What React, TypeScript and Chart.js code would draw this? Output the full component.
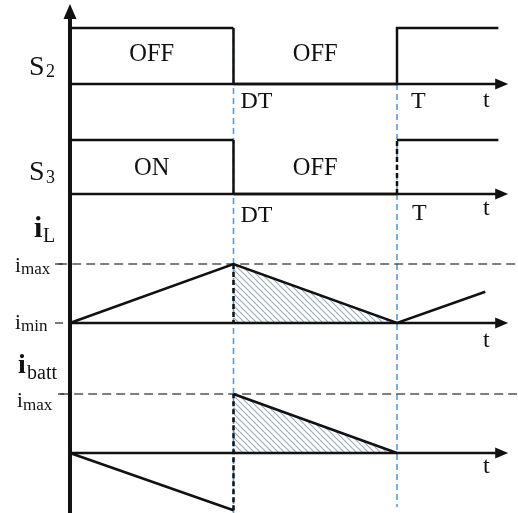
import React, { useEffect, useRef } from "react";
import { Chart, registerables } from "chart.js";

Chart.register(...registerables);

// ---- data (normalised time: T = 1, DT = 0.5) ----
const D = 0.5;
const T = 1;
const S2_TIMES = [0, D, D, T, T, 1.31];
const S2_LEVELS = [1, 1, 0, 0, 1, 1];
const S3_TIMES = [0, D, D, T, T, 1.31];
const S3_LEVELS = [1, 1, 0, 0, 1, 1];
const S2_STATES = ["OFF", "OFF"];
const S3_STATES = ["ON", "OFF"];
const IL_TIMES = [0, D, T, 1.27];
const IL_VALUES = [0, 1, 0, 0.53]; // 0 = i_min, 1 = i_max
const IBATT_TIMES = [0, D, D, T];
const IBATT_VALUES = [0, -0.97, 1, 0]; // 1 = i_max
const TIME_TICKS = ["DT", "T"];
const AXIS_END = 1.34;

// ---- layout ----
const W = 518;
const H = 513;
const X_MIN = -0.214;
const X_MAX = 1.37;
const PANELS: Record<string, { base: number; unit: number }> = {
  s2: { base: 84, unit: 56 },
  s3: { base: 194, unit: 54 },
  iL: { base: 323, unit: 59 },
  ib: { base: 453, unit: 59 },
};
const FONT = "'Liberation Serif', 'DejaVu Serif', serif";
const BLUE = "#5b9bd5";
const DARK = "#111";

const yv = (p: string, v: number) => PANELS[p].base - v * PANELS[p].unit;
const pts = (p: string, ts: number[], vs: number[]) => ts.map((t, i) => ({ x: t, y: yv(p, vs[i]) }));

function makeHatch(): CanvasPattern | string {
  const c = document.createElement("canvas");
  c.width = 6;
  c.height = 6;
  const g = c.getContext("2d");
  if (!g) return "rgba(120,150,190,0.3)";
  g.strokeStyle = "#9aabc3";
  g.lineWidth = 1.1;
  g.beginPath();
  g.moveTo(-1, -1);
  g.lineTo(7, 7);
  g.moveTo(-1, 5);
  g.lineTo(1, 7);
  g.moveTo(5, -1);
  g.lineTo(7, 1);
  g.stroke();
  return g.createPattern(c, "repeat") || "rgba(120,150,190,0.3)";
}

const decorPlugin = {
  id: "decor",
  afterDatasetsDraw(chart: any) {
    const ctx: CanvasRenderingContext2D = chart.ctx;
    const xs = chart.scales.x;
    const ys = chart.scales.y;
    const px = (t: number) => xs.getPixelForValue(t);
    const py = (p: string, v: number) => ys.getPixelForValue(yv(p, v));
    ctx.save();
    ctx.fillStyle = DARK;
    ctx.strokeStyle = DARK;

    // main vertical axis arrow head
    const x0 = px(0);
    ctx.beginPath();
    ctx.moveTo(x0, 4);
    ctx.lineTo(x0 - 6.5, 19);
    ctx.lineTo(x0 + 6.5, 19);
    ctx.closePath();
    ctx.fill();

    // time axis arrow heads
    const xe = px(AXIS_END);
    for (const p of ["s2", "s3", "iL", "ib"]) {
      const y = py(p, 0);
      ctx.beginPath();
      ctx.moveTo(xe, y);
      ctx.lineTo(xe - 13, y - 5.5);
      ctx.lineTo(xe - 13, y + 5.5);
      ctx.closePath();
      ctx.fill();
    }

    // small ticks for i_max / i_min on i_L panel
    ctx.lineWidth = 1.3;
    ctx.strokeStyle = "#333";
    for (const v of [1, 0]) {
      const y = py("iL", v);
      ctx.beginPath();
      ctx.moveTo(x0 - 15, y);
      ctx.lineTo(x0 - 7, y);
      ctx.stroke();
    }
    ctx.beginPath();
    ctx.moveTo(x0 - 12, py("ib", 1));
    ctx.lineTo(x0 - 6, py("ib", 1));
    ctx.stroke();

    ctx.fillStyle = DARK;
    ctx.textBaseline = "alphabetic";
    const txt = (s: string, x: number, y: number, size: number, opts: any = {}) => {
      ctx.font = `${opts.bold ? "bold " : ""}${size}px ${FONT}`;
      (ctx as any).letterSpacing = opts.ls ? `${opts.ls}px` : "0px";
      ctx.textAlign = opts.align || "left";
      ctx.fillText(s, x, y);
    };

    // state labels
    const midA = (px(0) + px(D)) / 2;
    const midB = (px(D) + px(T)) / 2;
    txt(S2_STATES[0], midA, 61, 24.5, { align: "center" });
    txt(S2_STATES[1], midB, 61, 24.5, { align: "center" });
    txt(S3_STATES[0], midA, 175, 24.5, { align: "center" });
    txt(S3_STATES[1], midB, 175, 24.5, { align: "center" });

    // S labels
    txt("S", 29, 75, 28);
    txt("2", 46, 77, 18);
    txt("S", 29, 180, 28);
    txt("3", 46, 183, 18);

    // time tick labels
    txt(TIME_TICKS[0], px(D) + 7, 108, 24);
    txt(TIME_TICKS[1], px(T) + 14, 108, 24);
    txt("t", 483, 107, 24);
    txt(TIME_TICKS[0], px(D) + 7, 222, 24);
    txt(TIME_TICKS[1], px(T) + 15, 220, 24);
    txt("t", 483, 215, 24);
    txt("t", 483, 347, 24);
    txt("t", 483, 473, 24);

    // current labels
    txt("i", 34, 237, 30, { bold: true });
    txt("L", 43, 242, 20);
    txt("i", 15, 272, 21);
    txt("max", 21, 274, 17);
    txt("i", 15, 329, 21);
    txt("min", 21, 331, 17);
    txt("i", 18, 373, 28, { bold: true });
    txt("batt", 27, 379, 20);
    txt("i", 17, 407, 21);
    txt("max", 23, 410, 17);

    ctx.restore();
  },
};

export default function App() {
  const ref = useRef<HTMLCanvasElement | null>(null);
  useEffect(() => {
    if (!ref.current) return;
    const hatch = makeHatch();
    const dashEdge = (edgeTimes: number[]) => (c: any) =>
      c.p0.parsed.x === c.p1.parsed.x && edgeTimes.includes(c.p0.parsed.x) ? [5, 3] : undefined;

    const line = (data: any[], extra: any = {}) => ({
      type: "line",
      data,
      showLine: true,
      pointRadius: 0,
      borderColor: DARK,
      borderWidth: 2.5,
      tension: 0,
      fill: false,
      borderCapStyle: "butt",
      borderJoinStyle: "miter",
      ...extra,
    });

    const datasets: any[] = [
      // hatched areas
      line([{ x: D, y: yv("iL", IL_VALUES[1]) }, { x: T, y: yv("iL", IL_VALUES[2]) }], {
        borderWidth: 0,
        backgroundColor: hatch,
        fill: { value: PANELS.iL.base },
        order: 20,
      }),
      line([{ x: D, y: yv("ib", IBATT_VALUES[2]) }, { x: T, y: yv("ib", IBATT_VALUES[3]) }], {
        borderWidth: 0,
        backgroundColor: hatch,
        fill: { value: PANELS.ib.base },
        order: 20,
      }),
      // blue dashed time markers
      line([{ x: D, y: yv("s2", 1) }, { x: D, y: H }], { borderColor: BLUE, borderWidth: 1.6, borderDash: [6, 4], order: 15 }),
      line([{ x: T, y: yv("s2", 0) }, { x: T, y: H - 6 }], { borderColor: BLUE, borderWidth: 1.6, borderDash: [6, 4], order: 15 }),
      // i_max dashed reference lines
      line([{ x: -0.036, y: yv("iL", 1) }, { x: X_MAX, y: yv("iL", 1) }], { borderColor: "#555", borderWidth: 1.5, borderDash: [9, 5], order: 14 }),
      line([{ x: -0.03, y: yv("ib", 1) }, { x: X_MAX, y: yv("ib", 1) }], { borderColor: "#555", borderWidth: 1.5, borderDash: [9, 5], order: 14 }),
      // time axes
      ...["s2", "s3", "iL", "ib"].map((p) =>
        line([{ x: 0, y: yv(p, 0) }, { x: AXIS_END - 0.02, y: yv(p, 0) }], { borderWidth: 2.5, order: 10 })
      ),
      // main vertical axis
      line([{ x: 0, y: H }, { x: 0, y: 14 }], { borderWidth: 4, order: 1 }),
      // waveforms
      line(pts("s2", S2_TIMES, S2_LEVELS), { segment: { borderDash: dashEdge([D]) }, order: 2 }),
      line(pts("s3", S3_TIMES, S3_LEVELS), { segment: { borderDash: dashEdge([D, T]) }, order: 2 }),
      line(pts("iL", IL_TIMES, IL_VALUES), { order: 2 }),
      line([{ x: D, y: yv("iL", 1) }, { x: D, y: yv("iL", 0) }], { borderDash: [5, 3], order: 2 }),
      line(pts("ib", IBATT_TIMES, IBATT_VALUES), { segment: { borderDash: dashEdge([D]) }, order: 2 }),
    ];

    const chart = new Chart(ref.current, {
      type: "scatter",
      data: { datasets },
      options: {
        animation: false,
        responsive: false,
        devicePixelRatio: 1,
        layout: { padding: 0 },
        plugins: { legend: { display: false }, tooltip: { enabled: false } },
        scales: {
          x: { type: "linear", min: X_MIN, max: X_MAX, display: false },
          y: { type: "linear", min: 0, max: H, reverse: true, display: false },
        },
      } as any,
      plugins: [decorPlugin],
    } as any);
    return () => chart.destroy();
  }, []);

  return (
    <div style={{ position: "fixed", left: 0, top: 0, width: W, height: H, background: "#fff" }}>
      <canvas ref={ref} width={W} height={H} style={{ width: W, height: H, display: "block" }} />
    </div>
  );
}
